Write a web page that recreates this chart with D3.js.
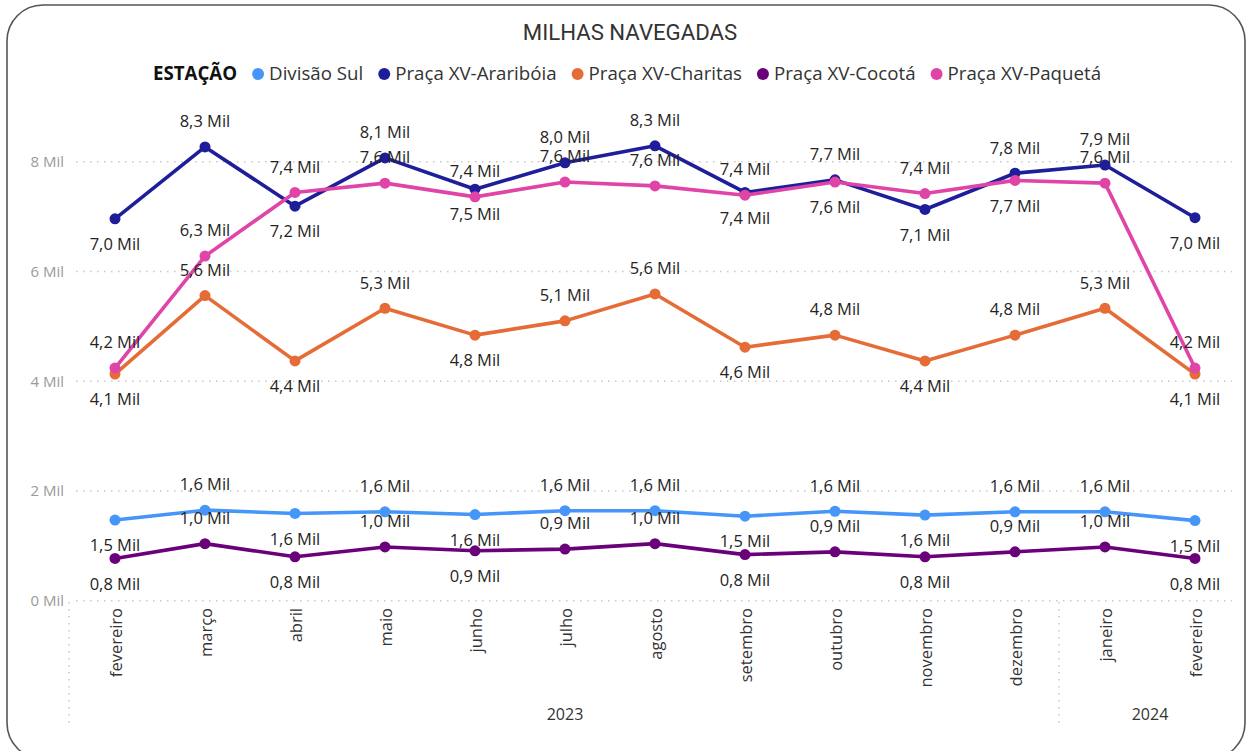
<!DOCTYPE html>
<html><head><meta charset="utf-8">
<script src="https://cdn.jsdelivr.net/npm/d3@7"></script>
<style>
html,body{margin:0;padding:0;background:#fff;}
svg{display:block;}
</style></head>
<body>
<svg id="chart" width="1247" height="751"></svg>
<script>
// ---------- data ----------
const title = "MILHAS NAVEGADAS";
const legendTitle = "ESTAÇÃO";
const months = ["fevereiro","março","abril","maio","junho","julho","agosto","setembro","outubro","novembro","dezembro","janeiro","fevereiro"];
const monthYears = ["2023","2023","2023","2023","2023","2023","2023","2023","2023","2023","2023","2024","2024"];
const seriesNames = ["Divisão Sul","Praça XV-Araribóia","Praça XV-Charitas","Praça XV-Cocotá","Praça XV-Paquetá"];
const seriesColors = ["#4596F8","#1F1E9A","#E66C37","#6B007B","#E044A7"];
const divisaoSul = [1470,1650,1590,1620,1570,1640,1640,1540,1630,1560,1620,1620,1460];
const arariboia  = [6960,8270,7190,8070,7500,7980,8290,7440,7670,7130,7790,7940,6980];
const charitas   = [4130,5560,4370,5330,4840,5100,5590,4620,4840,4370,4840,5330,4130];
const cocota     = [770,1040,800,980,910,940,1040,840,890,800,890,980,770];
const paqueta    = [4240,6280,7440,7610,7360,7630,7560,7390,7630,7420,7660,7610,4240];
const yTicks = [0,2000,4000,6000,8000];
const seriesValues = [divisaoSul, arariboia, charitas, cocota, paqueta];

// ---------- layout ----------
const svg = d3.select("#chart");
const plotLeft = 70, plotRight = 1240;
const fontMain = "'Segoe UI','Open Sans',sans-serif";

svg.append("rect").attr("x",7).attr("y",5).attr("width",1238).attr("height",754)
  .attr("rx",36).attr("ry",36).attr("fill","#fff").attr("stroke","#555").attr("stroke-width",1.6);

const keys = months.map((m,i)=>i);
const x = d3.scalePoint().domain(keys).range([plotLeft, plotRight]).padding(0.5);
const y = d3.scaleLinear().domain([0,9000]).range([600.7, 600.7-9*54.87]);

// title
svg.append("text").attr("x",630).attr("y",40).attr("text-anchor","middle")
  .attr("font-family","Roboto,'DejaVu Sans Condensed',sans-serif").attr("font-size",22.2)
  .attr("fill","#333").text(title);

// legend
const lg = svg.append("g");
let cx = 0;
const lgFont = 18.7, lgGap = 15;
const lt = lg.append("text").attr("x",0).attr("y",80).attr("font-family",fontMain)
  .attr("font-weight","bold").attr("font-size",lgFont).attr("fill","#111").text(legendTitle);
cx = lt.node().getComputedTextLength() + lgGap;
seriesNames.forEach((n,i)=>{
  lg.append("circle").attr("cx",cx+6).attr("cy",74).attr("r",6).attr("fill",seriesColors[i]);
  cx += 12 + 5;
  const t = lg.append("text").attr("x",cx).attr("y",80).attr("font-family",fontMain)
    .attr("font-size",lgFont).attr("fill","#333").text(n);
  cx += t.node().getComputedTextLength() + lgGap;
});
cx -= lgGap;
lg.attr("transform",`translate(${627 - cx/2},0)`);

// gridlines
const grid = svg.append("g");
yTicks.forEach(t=>{
  grid.append("line").attr("x1",76).attr("x2",1232).attr("y1",y(t)).attr("y2",y(t))
    .attr("stroke","#c8c8c8").attr("stroke-width",1.5).attr("stroke-dasharray","1.5,5.5");
});
// y axis
const yAxis = d3.axisLeft(y).tickValues(yTicks).tickSize(0).tickPadding(0)
  .tickFormat(d=>(d/1000)+" Mil");
const ya = svg.append("g").attr("transform","translate(64,0)").call(yAxis);
ya.select(".domain").remove();
ya.selectAll("text").attr("font-family",fontMain).attr("font-size",15).attr("fill","#9a9a9a");

// x axis
const xAxis = d3.axisBottom(x).tickSize(0).tickFormat(i=>months[i]);
const xa = svg.append("g").attr("transform","translate(0,600)").call(xAxis);
xa.select(".domain").remove();
xa.selectAll("text").attr("font-family",fontMain).attr("font-size",16.5).attr("fill","#333")
  .attr("text-anchor","end").attr("dy",null).attr("y",0)
  .attr("transform","translate(6,8) rotate(-90)");

// year groups
const yearsU = Array.from(new Set(monthYears));
const step = x.step();
yearsU.forEach(yr=>{
  const idx = keys.filter(i=>monthYears[i]===yr);
  const x0 = x(idx[0]) - step/2, x1 = x(idx[idx.length-1]) + step/2;
  svg.append("text").attr("x",(x0+x1)/2).attr("y",720).attr("text-anchor","middle")
    .attr("font-family",fontMain).attr("font-size",16).attr("fill","#333").text(yr);
  svg.append("line").attr("x1",x0-1).attr("x2",x0-1).attr("y1",602).attr("y2",728)
    .attr("stroke","#c8c8c8").attr("stroke-width",1.5).attr("stroke-dasharray","1.5,5.5");
});

// lines & markers
const line = d3.line().x((d,i)=>x(i)).y(d=>y(d));
seriesValues.forEach((vals,s)=>{
  svg.append("path").datum(vals).attr("d",line).attr("fill","none")
    .attr("stroke",seriesColors[s]).attr("stroke-width",3.6).attr("stroke-linejoin","round");
  svg.append("g").selectAll("circle").data(vals).join("circle")
    .attr("cx",(d,i)=>x(i)).attr("cy",d=>y(d)).attr("r",5.5).attr("fill",seriesColors[s]);
});

// data labels: below at local minima, above otherwise; flip on collision
const fmt = v => (v/1000).toFixed(1).replace(".",",")+" Mil";
const placed = keys.map(()=>[]);
const off = 25.5, hgt = 17;
const lblG = svg.append("g");
seriesValues.forEach((vals,s)=>{
  vals.forEach((v,i)=>{
    const prev = i>0 ? vals[i-1] : null, next = i<vals.length-1 ? vals[i+1] : null;
    const isMin = (prev===null || v<prev) && (next===null || v<next);
    let cy = y(v) + (isMin ? off : -off);
    if (placed[i].some(p=>Math.abs(p-cy)<hgt)) cy = y(v) + (isMin ? -off : off);
    placed[i].push(cy);
    lblG.append("text").attr("x",x(i)).attr("y",cy).attr("dy","0.35em")
      .attr("text-anchor","middle").attr("font-family",fontMain).attr("font-size",16.5)
      .attr("fill","#252423").text(fmt(v));
  });
});
</script>
</body></html>
